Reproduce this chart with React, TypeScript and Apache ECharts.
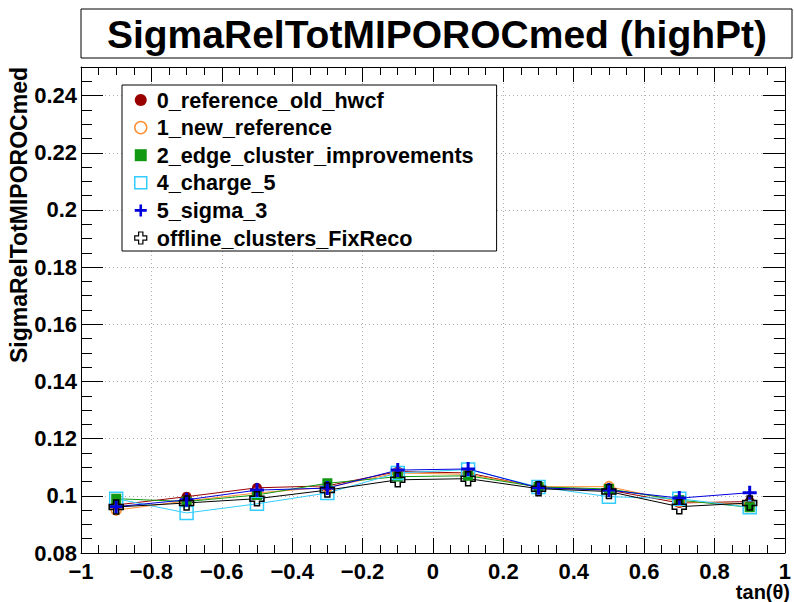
import React, { useEffect, useRef } from 'react';
import * as echarts from 'echarts';

const tanTheta = [-0.9, -0.7, -0.5, -0.3, -0.1, 0.1, 0.3, 0.5, 0.7, 0.9];

const seriesNames = [
  '0_reference_old_hwcf',
  '1_new_reference',
  '2_edge_cluster_improvements',
  '4_charge_5',
  '5_sigma_3',
  'offline_clusters_FixReco',
];

const refOldHwcf = [0.0968, 0.0997, 0.1028, 0.1035, 0.1085, 0.1080, 0.1030, 0.1020, 0.0975, 0.0980];
const newReference = [0.0950, 0.0982, 0.1010, 0.1030, 0.1080, 0.1075, 0.1032, 0.1032, 0.0980, 0.0970];
const edgeCluster = [0.0990, 0.0980, 0.1003, 0.1044, 0.1067, 0.1070, 0.1031, 0.1024, 0.0985, 0.0960];
const charge5 = [0.0990, 0.0940, 0.0972, 0.1010, 0.1080, 0.1092, 0.1031, 0.0997, 0.0990, 0.0960];
const sigma3 = [0.0962, 0.0986, 0.1020, 0.1027, 0.1090, 0.1094, 0.1028, 0.1020, 0.0992, 0.1011];
const offlineFixReco = [0.0961, 0.0975, 0.0990, 0.1020, 0.1056, 0.1060, 0.1025, 0.1015, 0.0962, 0.0975];

const allValues = [refOldHwcf, newReference, edgeCluster, charge5, sigma3, offlineFixReco];

const colors = ['#990000', '#ff8f33', '#119911', '#33ccff', '#0000dd', '#000000'];

const FONT = '"Liberation Sans", Arial, Helvetica, sans-serif';

const PLUS = 'path://M0,5.5H14V8.5H0ZM5.5,0H8.5V14H5.5Z';
const OPEN_CROSS = 'path://M4.5,0H9.5V4.5H14V9.5H9.5V14H4.5V9.5H0V4.5H4.5Z';

const markerDefs = [
  { symbol: 'circle', size: 10, itemStyle: { color: colors[0], borderWidth: 0 } },
  { symbol: 'circle', size: 10, itemStyle: { color: 'rgba(0,0,0,0)', borderColor: colors[1], borderWidth: 1.5 } },
  { symbol: 'rect', size: 10, itemStyle: { color: colors[2], borderWidth: 0 } },
  { symbol: 'rect', size: 13, itemStyle: { color: 'rgba(0,0,0,0)', borderColor: colors[3], borderWidth: 1.5 } },
  { symbol: PLUS, size: 14, itemStyle: { color: colors[4], borderWidth: 0 } },
  { symbol: OPEN_CROSS, size: 14, itemStyle: { color: 'rgba(255,255,255,0)', borderColor: '#000', borderWidth: 1.5 } },
];

function fmtX(v: number): string {
  const r = Math.round(v * 10) / 10;
  if (Math.abs(r) < 1e-9) return '0';
  return String(r).replace('-', '\u2212');
}

function fmtY(v: number): string {
  if (v > 0.2450) return '';
  const r = Math.round(v * 100) / 100;
  return String(r);
}

export default function App() {
  const ref = useRef<HTMLDivElement>(null);

  useEffect(() => {
    if (!ref.current) return;
    const chart = echarts.init(ref.current, undefined, { renderer: 'svg' });

    const axisCommon = {
      type: 'value' as const,
      axisLine: { show: true, onZero: false, lineStyle: { color: '#000', width: 1 } },
    };

    const series = seriesNames.map((name, i) => ({
      name,
      type: 'line',
      data: tanTheta.map((x, j) => [x, allValues[i][j]]),
      symbol: markerDefs[i].symbol,
      symbolSize: markerDefs[i].size,
      itemStyle: markerDefs[i].itemStyle,
      lineStyle: { color: colors[i], width: 1 },
      silent: true,
      emphasis: { disabled: true },
      xAxisIndex: 0,
      yAxisIndex: 0,
    }));

    const legendIcons = [
      { icon: 'circle', itemStyle: { color: colors[0], borderWidth: 0 } },
      { icon: 'circle', itemStyle: { color: '#fff', borderColor: colors[1], borderWidth: 1.5 } },
      { icon: 'rect', itemStyle: { color: colors[2], borderWidth: 0 } },
      { icon: 'rect', itemStyle: { color: '#fff', borderColor: colors[3], borderWidth: 1.5 } },
      { icon: PLUS, itemStyle: { color: colors[4], borderWidth: 0 } },
      { icon: OPEN_CROSS, itemStyle: { color: '#fff', borderColor: '#000', borderWidth: 1.2 } },
    ];

    chart.setOption({
      animation: false,
      backgroundColor: '#fff',
      grid: { left: 81, right: 1, top: 67, bottom: 49, containLabel: false },
      xAxis: [
        {
          ...axisCommon,
          position: 'bottom',
          min: -1,
          max: 1,
          interval: 0.2,
          axisTick: { show: true, inside: true, length: 15, lineStyle: { color: '#000' } },
          minorTick: { show: true, splitNumber: 4, length: 8, lineStyle: { color: '#000' } },
          splitLine: { show: true, lineStyle: { color: '#b0b0b0', width: 1, type: [1, 3] } },
          axisLabel: { fontSize: 22, fontWeight: 'bold', color: '#000', fontFamily: FONT, margin: 7, formatter: fmtX },
        },
        {
          ...axisCommon,
          position: 'top',
          min: -1,
          max: 1,
          interval: 0.2,
          axisTick: { show: true, inside: true, length: 15, lineStyle: { color: '#000' } },
          minorTick: { show: true, splitNumber: 4, length: 8, lineStyle: { color: '#000' } },
          splitLine: { show: false },
          axisLabel: { show: false },
        },
      ],
      yAxis: [
        {
          ...axisCommon,
          position: 'left',
          min: 0.08,
          max: 0.25,
          interval: 0.02,
          axisTick: { show: true, inside: true, length: 22, lineStyle: { color: '#000' } },
          minorTick: { show: true, splitNumber: 4, length: 11, lineStyle: { color: '#000' } },
          splitLine: { show: true, lineStyle: { color: '#b0b0b0', width: 1, type: [1, 3] } },
          axisLabel: { fontSize: 22, fontWeight: 'bold', color: '#000', fontFamily: FONT, margin: 4, formatter: fmtY, showMaxLabel: false },
        },
        {
          ...axisCommon,
          position: 'right',
          min: 0.08,
          max: 0.25,
          interval: 0.02,
          axisTick: { show: true, inside: true, length: 22, lineStyle: { color: '#000' } },
          minorTick: { show: true, splitNumber: 4, length: 11, lineStyle: { color: '#000' } },
          splitLine: { show: false },
          axisLabel: { show: false },
        },
      ],
      legend: {
        orient: 'vertical',
        left: 122,
        top: 85,
        backgroundColor: '#fff',
        borderColor: '#000',
        borderWidth: 1,
        padding: [4, 23, 2, 12],
        itemGap: 5.6,
        itemWidth: 12,
        itemHeight: 12,
        selectedMode: false,
        textStyle: { fontSize: 21.6, fontWeight: 'bold', color: '#000', fontFamily: FONT, lineHeight: 21.6, padding: [0, 0, 0, 5] },
        data: seriesNames.map((name, i) => ({ name, icon: legendIcons[i].icon, itemStyle: legendIcons[i].itemStyle })),
      },
      graphic: [
        {
          type: 'rect',
          shape: { x: 81, y: 9, width: 711, height: 49 },
          style: { fill: '#fff', stroke: '#000', lineWidth: 1 },
        },
        {
          type: 'text',
          x: 437,
          y: 34,
          style: {
            text: 'SigmaRelTotMIPOROCmed (highPt)',
            fontSize: 39,
            fontWeight: 'bold',
            fontFamily: FONT,
            fill: '#000',
            align: 'center',
            verticalAlign: 'middle',
            textAlign: 'center',
            textVerticalAlign: 'middle',
          },
        },
        {
          type: 'text',
          x: 19,
          y: 67,
          rotation: Math.PI / 2,
          style: {
            text: 'SigmaRelTotMIPOROCmed',
            fontSize: 23,
            fontWeight: 'bold',
            fontFamily: FONT,
            fill: '#000',
            align: 'right',
            verticalAlign: 'middle',
            textAlign: 'right',
            textVerticalAlign: 'middle',
          },
        },
        {
          type: 'text',
          x: 790,
          y: 602,
          style: {
            text: 'tan(\u03b8)',
            fontSize: 20,
            fontWeight: 'bold',
            fontFamily: FONT,
            fill: '#000',
            align: 'right',
            verticalAlign: 'bottom',
            textAlign: 'right',
            textVerticalAlign: 'bottom',
          },
        },
      ],
      series,
    });

    return () => {
      chart.dispose();
    };
  }, []);

  return (
    <div
      ref={ref}
      style={{ position: 'fixed', left: 0, top: 0, width: 794, height: 602, background: '#fff' }}
    />
  );
}
